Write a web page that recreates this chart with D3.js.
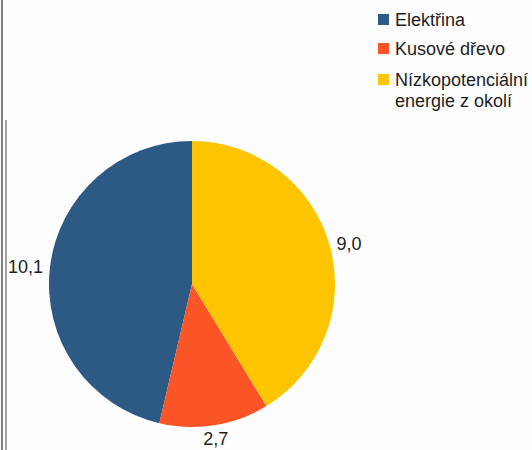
<!DOCTYPE html>
<html>
<head>
<meta charset="utf-8">
<script src="https://cdn.jsdelivr.net/npm/d3@7"></script>
<style>
	body { margin: 0; background: #fdfdfe; }
	svg { display: block; font-family: "Liberation Sans", Arial, sans-serif; }
</style>
</head>
<body>
<svg class="piechart"></svg>
<script>
var categories = ["Elektřina", "Kusové dřevo", "Nízkopotenciální energie z okolí"];
var values = [10.1, 2.7, 9.0];
var valueLabels = ["10,1", "2,7", "9,0"];
var legendLines = [["Elektřina"], ["Kusové dřevo"], ["Nízkopotenciální", "energie z okolí"]];
var colors = ["#2d5a85", "#fb5427", "#fdc500"];

var width = 532;
var height = 450;
var cx = 192, cy = 284, radius = 143;

var svg = d3.select(".piechart")
	.attr("width", width)
	.attr("height", height);

// left border of the scanned page
svg.append("line")
	.attr("x1", 2).attr("x2", 2).attr("y1", 0).attr("y2", height)
	.attr("stroke", "#555").attr("stroke-width", 1.5);
svg.append("line")
	.attr("x1", 6).attr("x2", 6).attr("y1", 120).attr("y2", height)
	.attr("stroke", "#666").attr("stroke-width", 1.2);

var pie = d3.pie()
	.sort(null)
	.startAngle(0)
	.endAngle(-2 * Math.PI);

var arcs = pie(values);

var arc = d3.arc()
	.innerRadius(0)
	.outerRadius(radius);

var g = svg.append("g")
	.attr("transform", "translate(" + cx + "," + cy + ")");

g.selectAll("path")
	.data(arcs)
	.enter()
	.append("path")
		.attr("d", arc)
		.attr("fill", function(d, i) { return colors[i]; });

// value labels outside the slices
var labelR = radius + 7;
g.selectAll("text.value")
	.data(arcs)
	.enter()
	.append("text")
		.attr("class", "value")
		.attr("font-size", 18)
		.attr("fill", "#1e1e1e")
		.each(function(d, i) {
			var a = (d.startAngle + d.endAngle) / 2;
			var s = Math.sin(a), c = Math.cos(a);
			var t = d3.select(this)
				.attr("x", labelR * s)
				.attr("y", -labelR * c)
				.text(valueLabels[i]);
			if (Math.abs(s) < 0.3) {
				t.attr("text-anchor", "middle")
					.attr("dy", c < 0 ? "0.72em" : "-0.2em");
			} else {
				t.attr("text-anchor", s < 0 ? "end" : "start")
					.attr("dy", "0.35em");
			}
		});

// legend
var legendY = [20, 49, 80];
var legend = svg.append("g")
	.attr("class", "legend")
	.selectAll("g")
	.data(categories)
	.enter()
	.append("g")
		.attr("transform", function(d, i) { return "translate(378," + legendY[i] + ")"; });

legend.append("rect")
	.attr("x", 0)
	.attr("y", -6)
	.attr("width", 11)
	.attr("height", 11)
	.attr("fill", function(d, i) { return colors[i]; });

legend.append("text")
	.attr("font-size", 18)
	.attr("fill", "#1e1e1e")
	.selectAll("tspan")
	.data(function(d, i) { return legendLines[i]; })
	.enter()
	.append("tspan")
		.attr("x", 17)
		.attr("y", function(d, j) { return j * 21; })
		.attr("dy", "0.35em")
		.text(function(d) { return d; });
</script>
</body>
</html>
